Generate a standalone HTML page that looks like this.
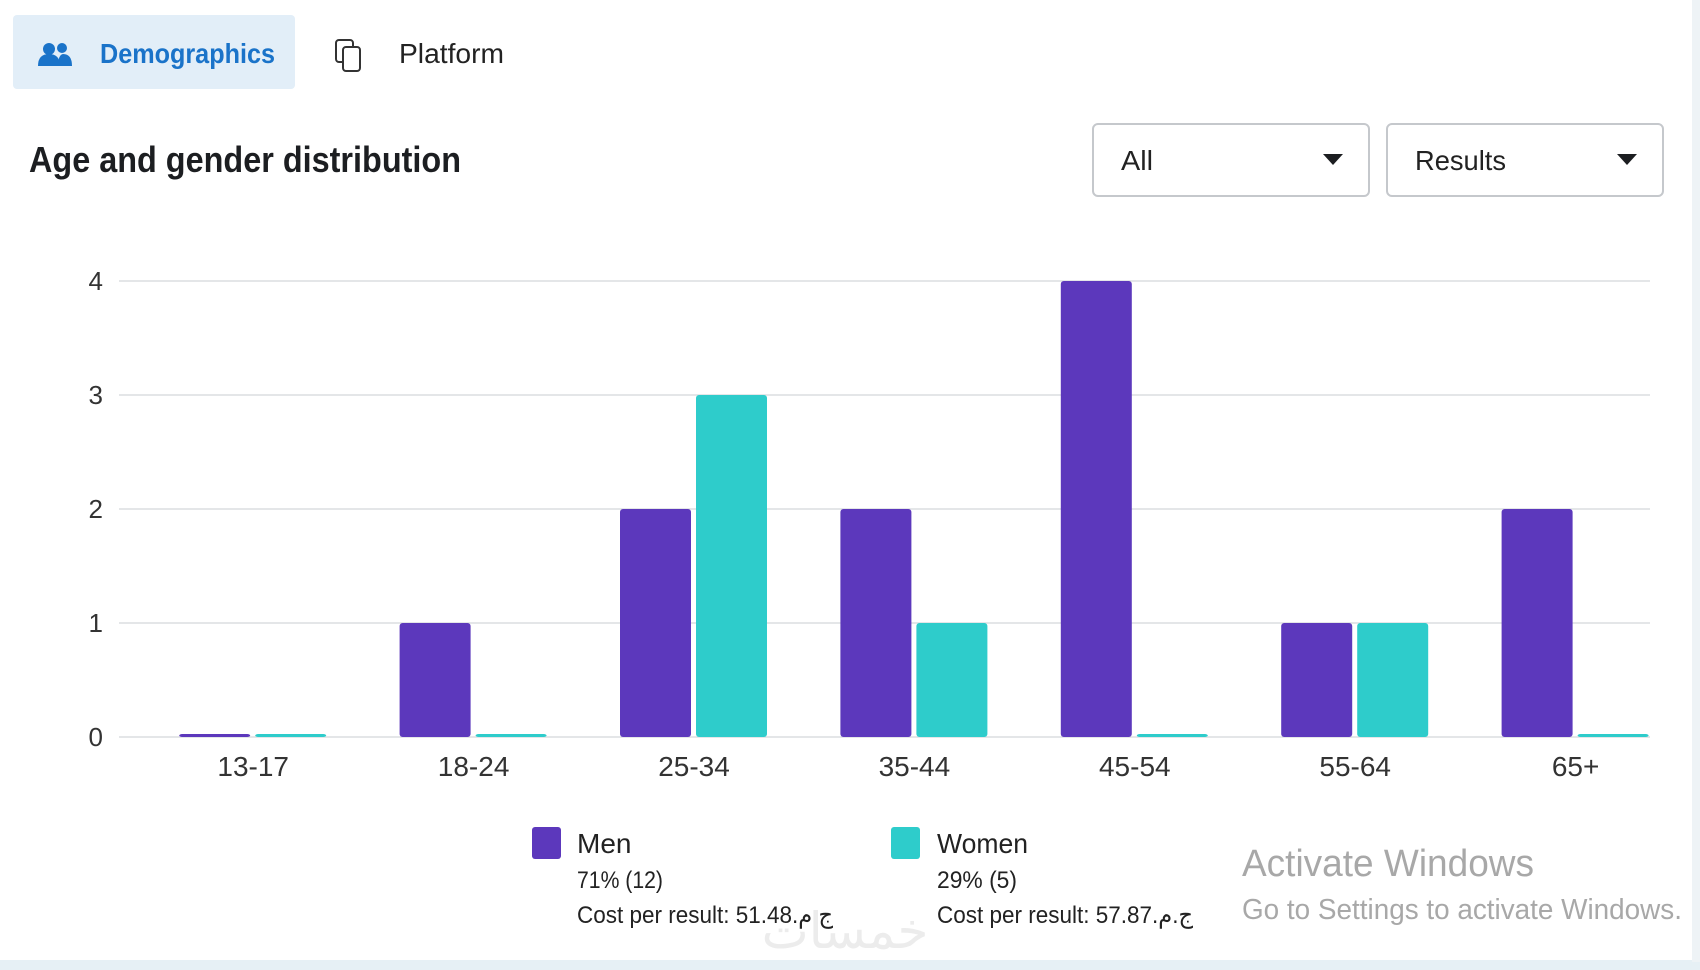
<!DOCTYPE html>
<html><head><meta charset="utf-8"><style>
html,body{margin:0;padding:0;background:#fff;}
svg{display:block;font-family:"Liberation Sans",sans-serif;}
</style></head><body>
<svg width="1700" height="970" viewBox="0 0 1700 970">
<rect x="0" y="960" width="1700" height="10" fill="#e6f0f5"/>
<rect x="1692" y="0" width="8" height="962" fill="#eef3f6"/>
<g>
<rect x="13" y="15" width="282" height="74" rx="4" fill="#e2eef8"/>
<g fill="#1a73c9">
<circle cx="49" cy="49" r="6"/><circle cx="62" cy="48" r="5"/>
<path d="M38 66 q0 -12 11 -12 q11 0 11 12 z"/><path d="M58 66 q0 -11 5 -12 q9 0 9 12 z"/>
</g>
<text x="100" y="63" font-size="28" font-weight="bold" fill="#1a73c9" textLength="175" lengthAdjust="spacingAndGlyphs">Demographics</text>
</g>
<g>
<g fill="none" stroke="#333" stroke-width="2">
<rect x="336" y="40" width="17" height="22" rx="3"/><rect x="343" y="47" width="17" height="24" rx="3" fill="#fff"/>
</g>
<text x="399" y="63" font-size="28" fill="#222" textLength="105" lengthAdjust="spacingAndGlyphs">Platform</text>
</g>
<text x="29" y="172" font-size="36" font-weight="bold" fill="#1c1e21" textLength="432" lengthAdjust="spacingAndGlyphs">Age and gender distribution</text>
<g>
<rect x="1093" y="124" width="276" height="72" rx="5" fill="#fff" stroke="#c5c8cc" stroke-width="2"/>
<text x="1121" y="170" font-size="28" fill="#222" textLength="32" lengthAdjust="spacingAndGlyphs">All</text>
<path d="M1323 154 h20 l-10 11 z" fill="#1c1e21"/>
</g>
<g>
<rect x="1387" y="124" width="276" height="72" rx="5" fill="#fff" stroke="#c5c8cc" stroke-width="2"/>
<text x="1415" y="170" font-size="28" fill="#222" textLength="91" lengthAdjust="spacingAndGlyphs">Results</text>
<path d="M1617 154 h20 l-10 11 z" fill="#1c1e21"/>
</g>
<g id="chart"></g>
<g>
<g>
<rect x="532" y="827" width="29" height="32" rx="3" fill="#5c38bc"/>
<text x="577" y="853" font-size="28" fill="#222">Men</text>
<text x="577" y="888" font-size="24" fill="#222" textLength="86" lengthAdjust="spacingAndGlyphs">71% (12)</text>
<text x="577" y="923" font-size="24" fill="#222" textLength="256" lengthAdjust="spacingAndGlyphs">Cost per result: 51.48.ج.م</text>
</g>
<g>
<rect x="891" y="827" width="29" height="32" rx="3" fill="#2ecccb"/>
<text x="937" y="853" font-size="28" fill="#222" textLength="91" lengthAdjust="spacingAndGlyphs">Women</text>
<text x="937" y="888" font-size="24" fill="#222" textLength="80" lengthAdjust="spacingAndGlyphs">29% (5)</text>
<text x="937" y="923" font-size="24" fill="#222" textLength="256" lengthAdjust="spacingAndGlyphs">Cost per result: 57.87.ج.م</text>
</g>
</g>
<text x="845" y="948" font-size="50" fill="#ececec" text-anchor="middle" font-family="'DejaVu Sans',sans-serif">خمسات</text>
<text x="1242" y="876" font-size="38" fill="#a8a8a8" textLength="292" lengthAdjust="spacingAndGlyphs">Activate Windows</text>
<text x="1242" y="919" font-size="29" fill="#a8a8a8" textLength="440" lengthAdjust="spacingAndGlyphs">Go to Settings to activate Windows.</text>
</svg>
<script>
const categories=["13-17","18-24","25-34","35-44","45-54","55-64","65+"];
const menValues=[0,1,2,2,4,1,2];
const womenValues=[0,0,3,1,0,1,0];
const yTicks=[0,1,2,3,4];
const NS="http://www.w3.org/2000/svg";
const g=document.getElementById('chart');
const x0=143,bw=220.4,yTop=281,yBase=737,yMax=4;
function y(v){return yBase-(v/yMax)*(yBase-yTop);}
function cx(i){return x0+bw*i+bw/2;}
function mk(t,a){const e=document.createElementNS(NS,t);for(const k in a)e.setAttribute(k,a[k]);g.appendChild(e);return e;}
yTicks.forEach(t=>{
 const l=mk('line',{x1:119,x2:1650,y1:y(t),y2:y(t),stroke:'#e4e6e8','stroke-width':2});
 
 
 const tx=mk('text',{x:103,y:y(t)+9,'font-size':26,fill:'#333','text-anchor':'end'});
 tx.textContent=t;
 
 
});
categories.forEach((c,i)=>{
 const m=menValues[i],w=womenValues[i];
 const hm=Math.max(y(0)-y(m),3),hw=Math.max(y(0)-y(w),3);
 const b1=mk('rect',{x:cx(i)-74,y:yBase-hm,width:71,height:hm,rx:3,fill:'#5c38bc'});
 
 
 const b2=mk('rect',{x:cx(i)+2,y:yBase-hw,width:71,height:hw,rx:3,fill:'#2ecccb'});
 
 
 const tx=mk('text',{x:cx(i),y:776,'font-size':28,fill:'#333','text-anchor':'middle'});
 tx.textContent=c;
 
 
});
</script>
</body></html>
